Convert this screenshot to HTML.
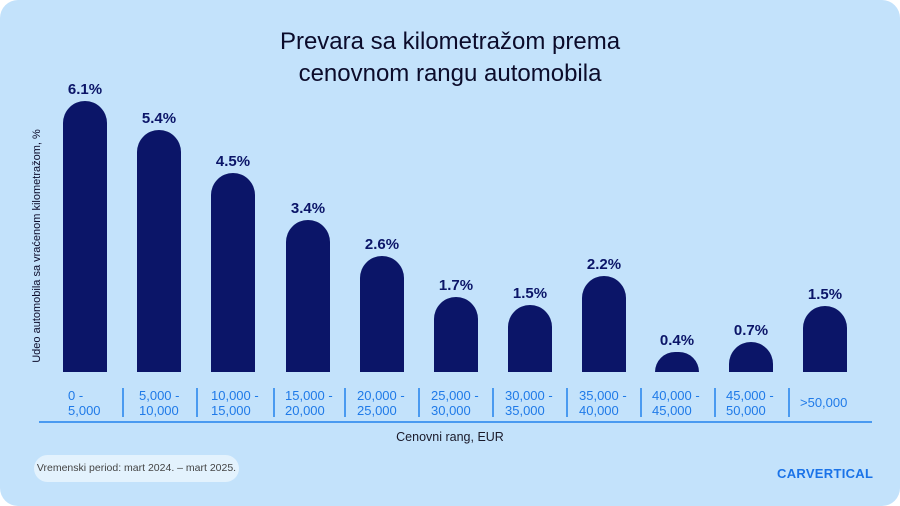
<!DOCTYPE html>
<html><head><meta charset="utf-8"><style>
body{margin:0;background:#fff;}
.c{position:relative;width:900px;height:506px;background:#c3e2fb;border-radius:18px;overflow:hidden;font-family:"Liberation Sans",sans-serif;}
.t{position:absolute;top:26px;left:0;width:900px;text-align:center;font-size:24px;line-height:32px;color:#0b0b2a;}
.bar{position:absolute;width:44px;background:#0b1568;border-radius:22px 22px 0 0;bottom:134px;}
.v{position:absolute;width:80px;text-align:center;font-size:15px;font-weight:bold;color:#0b1568;}
.l{position:absolute;top:388px;font-size:13px;line-height:15px;color:#1f7ae8;}
.s{position:absolute;top:388px;width:1.5px;height:29px;background:#4a9af0;}
.yl{position:absolute;left:37px;top:246px;transform:translate(-50%,-50%) rotate(-90deg);font-size:11px;color:#0b0b2a;white-space:nowrap;}
</style></head><body><div class="c">
<div class="t">Prevara sa kilometražom prema<br>cenovnom rangu automobila</div>
<div class="yl">Udeo automobila sa vraćenom kilometražom, %</div>
<div class="bar" style="left:63px;height:271px"></div><div class="v" style="left:45px;top:81px">6.1%</div>
<div class="bar" style="left:137px;height:242px"></div><div class="v" style="left:119px;top:110px">5.4%</div>
<div class="bar" style="left:211px;height:199px"></div><div class="v" style="left:193px;top:153px">4.5%</div>
<div class="bar" style="left:286px;height:152px"></div><div class="v" style="left:268px;top:200px">3.4%</div>
<div class="bar" style="left:360px;height:116px"></div><div class="v" style="left:342px;top:236px">2.6%</div>
<div class="bar" style="left:434px;height:75px"></div><div class="v" style="left:416px;top:277px">1.7%</div>
<div class="bar" style="left:508px;height:67px"></div><div class="v" style="left:490px;top:285px">1.5%</div>
<div class="bar" style="left:582px;height:96px"></div><div class="v" style="left:564px;top:256px">2.2%</div>
<div class="bar" style="left:655px;height:20px"></div><div class="v" style="left:637px;top:332px">0.4%</div>
<div class="bar" style="left:729px;height:30px"></div><div class="v" style="left:711px;top:322px">0.7%</div>
<div class="bar" style="left:803px;height:66px"></div><div class="v" style="left:785px;top:286px">1.5%</div>
<div class="l" style="left:68px">0 -<br>5,000</div>
<div class="s" style="left:122px"></div><div class="l" style="left:139px">5,000 -<br>10,000</div>
<div class="s" style="left:196px"></div><div class="l" style="left:211px">10,000 -<br>15,000</div>
<div class="s" style="left:273px"></div><div class="l" style="left:285px">15,000 -<br>20,000</div>
<div class="s" style="left:344px"></div><div class="l" style="left:357px">20,000 -<br>25,000</div>
<div class="s" style="left:418px"></div><div class="l" style="left:431px">25,000 -<br>30,000</div>
<div class="s" style="left:492px"></div><div class="l" style="left:505px">30,000 -<br>35,000</div>
<div class="s" style="left:566px"></div><div class="l" style="left:579px">35,000 -<br>40,000</div>
<div class="s" style="left:640px"></div><div class="l" style="left:652px">40,000 -<br>45,000</div>
<div class="s" style="left:714px"></div><div class="l" style="left:726px">45,000 -<br>50,000</div>
<div class="s" style="left:788px"></div><div class="l" style="left:800px;top:395px">&gt;50,000</div>
<div style="position:absolute;left:39px;top:421px;width:833px;height:1.5px;background:#4a9af0"></div>
<div style="position:absolute;left:0;width:900px;top:430px;text-align:center;font-size:12.5px;color:#1a1a2a">Cenovni rang, EUR</div>
<div style="position:absolute;left:34px;top:455px;width:205px;height:27px;border-radius:14px;background:#e3f2fd;font-size:10.5px;line-height:27px;text-align:center;color:#444">Vremenski period: mart 2024. – mart 2025.</div>
<div style="position:absolute;left:777px;top:466px;font-size:13px;font-weight:bold;color:#1a73e8;letter-spacing:0.3px">CARVERTICAL</div>
</div></body></html>
